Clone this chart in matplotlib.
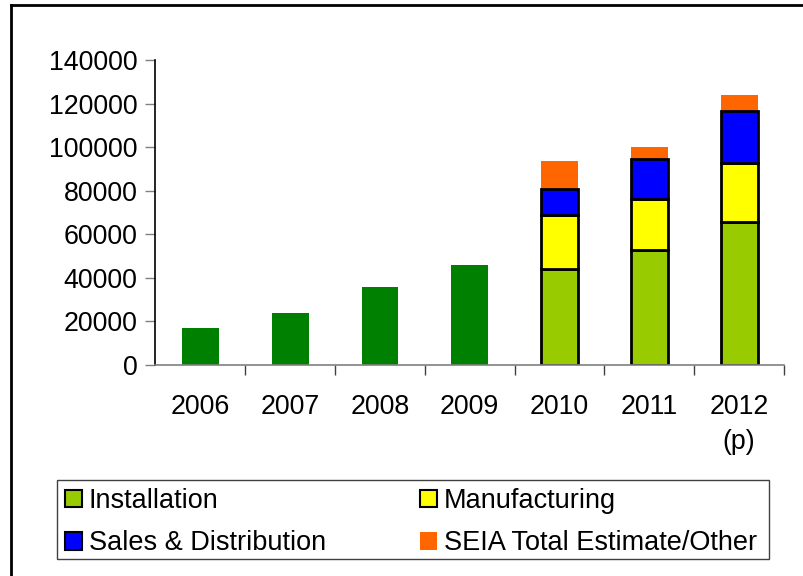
import matplotlib
matplotlib.use('Agg')
import matplotlib.pyplot as plt
from matplotlib.lines import Line2D
from matplotlib.patches import Patch, Rectangle
import numpy as np

plt.rcParams['font.family'] = ['Liberation Sans', 'DejaVu Sans']

years = ['2006', '2007', '2008', '2009', '2010', '2011', '2012\n(p)']
# totals for years without breakdown
early_totals = [17000, 24000, 36000, 46000]
# breakdown years 2010-2012
installation = [44000, 52600, 65500]
manufacturing = [24700, 23700, 27400]
sales = [12000, 18100, 23700]
other = [13000, 5800, 7400]

fig = plt.figure(figsize=(8.04, 5.76), dpi=100)
ax = fig.add_axes([155.5 / 804, 1 - 365 / 576, (784 - 155.5) / 804, (365 - 60) / 576])

w = 0.41
x_early = np.arange(len(early_totals))
ax.bar(x_early, early_totals, width=w, color='#008000', zorder=2)

x_late = np.arange(len(early_totals), len(years))
inst = np.array(installation)
manu = np.array(manufacturing)
sal = np.array(sales)
oth = np.array(other)
ax.bar(x_late, inst, width=w, color='#99CC00', edgecolor='black', linewidth=2, zorder=2)
ax.bar(x_late, manu, width=w, bottom=inst, color='#FFFF00', edgecolor='black', linewidth=2, zorder=2)
ax.bar(x_late, sal, width=w, bottom=inst + manu, color='#0000FF', edgecolor='black', linewidth=2, zorder=2)
ax.bar(x_late, oth, width=w, bottom=inst + manu + sal, color='#FF6600', linewidth=0, zorder=1)

ax.set_xlim(-0.5, len(years) - 0.5)
ax.set_ylim(0, 140000)
ax.set_yticks(np.arange(0, 140001, 20000))
ax.tick_params(axis='y', labelsize=19.3, length=7, width=1, color='#808080', pad=6)

ax.set_xticks(np.arange(0.5, len(years) - 0.5 + 0.01, 1))
ax.set_xticklabels([])
ax.set_xticks(np.arange(len(years)), minor=True)
ax.set_xticklabels(years, minor=True, fontsize=19.3, linespacing=1.45)
ax.tick_params(axis='x', which='major', length=7, width=1, color='#404040')
ax.tick_params(axis='x', which='minor', length=0, pad=21)

for s in ['top', 'right']:
    ax.spines[s].set_visible(False)
ax.spines['left'].set_linewidth(1.2)
ax.spines['bottom'].set_color('#808080')
ax.spines['bottom'].set_linewidth(1.2)

# legend frame
fig.add_artist(Rectangle((57.5 / 804, 1 - 559 / 576), (769 - 57.5) / 804, (559 - 480) / 576,
                         transform=fig.transFigure, facecolor='none', edgecolor='#404040', lw=1))

leg_kw = dict(loc='upper left', fontsize=19.5, frameon=False,
              handlelength=0.63, handleheight=0.63, handletextpad=0.25,
              labelspacing=0.6, borderpad=0, borderaxespad=0)
leg1 = fig.legend([Patch(facecolor='#99CC00', edgecolor='black', linewidth=1.5),
                   Patch(facecolor='#0000FF', edgecolor='black', linewidth=1.5)],
                  ['Installation', 'Sales & Distribution'],
                  bbox_to_anchor=(65 / 804, 1 - 488 / 576), **leg_kw)
leg2 = fig.legend([Patch(facecolor='#FFFF00', edgecolor='black', linewidth=1.5),
                   Patch(facecolor='#FF6600', edgecolor='none')],
                  ['Manufacturing', 'SEIA Total Estimate/Other'],
                  bbox_to_anchor=(420 / 804, 1 - 488 / 576), **leg_kw)

# outer border (top and left)
fig.add_artist(Line2D([11 / 804, 1], [1 - 5 / 576, 1 - 5 / 576], color='black', lw=2))
fig.add_artist(Line2D([11 / 804, 11 / 804], [0, 1 - 5 / 576], color='black', lw=2))

fig.savefig('out.png', dpi=100)
